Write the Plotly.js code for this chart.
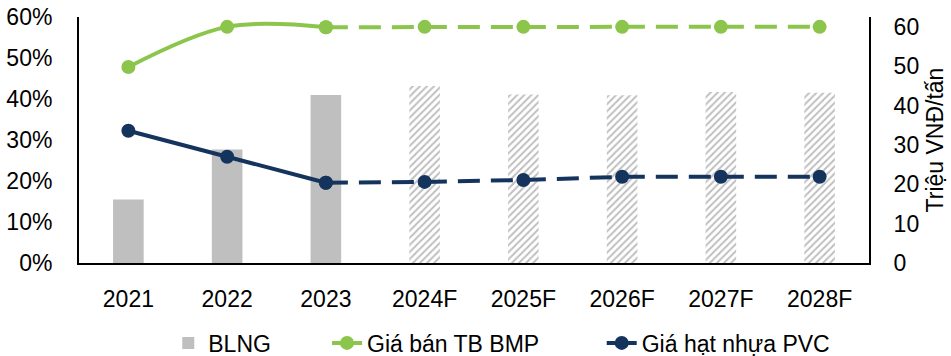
<!DOCTYPE html>
<html>
<head>
<meta charset="utf-8">
<script src="https://cdn.plot.ly/plotly-3.0.1.min.js"></script>
<style>html,body{margin:0;padding:0;background:#fff;}#chart{width:951px;height:356px;}</style>
</head>
<body>
<div id="chart"></div>
<script>
const categories = ["2021", "2022", "2023", "2024F", "2025F", "2026F", "2027F", "2028F"];
const blng = [0.155, 0.277, 0.410, 0.432, 0.411, 0.409, 0.417, 0.415];
const giaBanBMP = [49.8, 60.0, 59.9, 60.0, 60.0, 60.0, 60.0, 60.0];
const giaHatPVC = [33.6, 27.0, 20.4, 20.6, 21.1, 21.9, 21.9, 21.9];
const seriesNames = ["BLNG", "Giá bán TB BMP", "Giá hạt nhựa PVC"];
const nActual = 3;

const green = "#8cc54c";
const navy = "#15345d";
const grey = "#bfbfbf";
const font = {family: "Liberation Sans, Arial, sans-serif", size: 23, color: "#000"};
const legendFont = {family: "Liberation Sans, Arial, sans-serif", size: 23, color: "#000"};
const pad = n => "\u00a0".repeat(n);

const actCats = categories.slice(0, nActual);
const fcCats = categories.slice(nActual);
const lineCatsA = categories.slice(0, nActual);
const lineCatsF = categories.slice(nActual - 1);

const traces = [
  {type: "bar", x: actCats, y: blng.slice(0, nActual), name: seriesNames[0] + pad(8), marker: {color: grey, line: {width: 0}}, yaxis: "y"},
  {type: "bar", x: fcCats, y: blng.slice(nActual), name: seriesNames[0], showlegend: false,
   marker: {color: "#ffffff", line: {width: 0}, pattern: {shape: "/", fgcolor: grey, bgcolor: "#ffffff", size: 5, solidity: 0.4}}, yaxis: "y"},
  {type: "scatter", mode: "lines+markers", x: lineCatsA, y: giaBanBMP.slice(0, nActual), name: seriesNames[1] + pad(9), yaxis: "y2",
   line: {color: green, width: 4, shape: "spline", smoothing: 1}, marker: {color: green, size: 14}},
  {type: "scatter", mode: "lines+markers", x: lineCatsF, y: giaBanBMP.slice(nActual - 1), name: seriesNames[1], showlegend: false, yaxis: "y2",
   line: {color: green, width: 4, dash: "22px,11px"}, marker: {color: green, size: 14}},
  {type: "scatter", mode: "lines+markers", x: lineCatsA, y: giaHatPVC.slice(0, nActual), name: seriesNames[2], yaxis: "y2",
   line: {color: navy, width: 4, shape: "spline", smoothing: 0.6}, marker: {color: navy, size: 14}},
  {type: "scatter", mode: "lines+markers", x: lineCatsF, y: giaHatPVC.slice(nActual - 1), name: seriesNames[2], showlegend: false, yaxis: "y2",
   line: {color: navy, width: 4, dash: "22px,11px"}, marker: {color: navy, size: 14}}
];

const layout = {
  width: 951, height: 356,
  margin: {l: 79, r: 82, t: 17, b: 93, autoexpand: false},
  paper_bgcolor: "#fff", plot_bgcolor: "#fff",
  font: font,
  showlegend: true,
  barmode: "overlay",
  bargap: 0.69,
  xaxis: {type: "category", categoryorder: "array", categoryarray: categories,
    showline: true, linecolor: "#000", linewidth: 2, ticks: "", showgrid: false, zeroline: false,
    ticklabelstandoff: 14, tickfont: font, automargin: false},
  yaxis: {range: [0, 0.6], tickvals: [0, 0.1, 0.2, 0.3, 0.4, 0.5, 0.6], tickformat: ".0%",
    showline: true, linecolor: "#000", linewidth: 2, ticks: "", showgrid: false, zeroline: false,
    ticklabelstandoff: 20, tickfont: font, automargin: false},
  yaxis2: {overlaying: "y", side: "right", range: [0, 62.5], tickvals: [0, 10, 20, 30, 40, 50, 60],
    showline: true, linecolor: "#000", linewidth: 2, ticks: "", showgrid: false, zeroline: false,
    ticklabelstandoff: 18, tickfont: font, automargin: false,
    title: {text: "Triệu VNĐ/tấn", font: font, standoff: 9}},
  legend: {orientation: "h", x: 0.113, xanchor: "left", y: -0.325, yanchor: "middle", font: legendFont,
    traceorder: "normal", itemwidth: 30, bgcolor: "rgba(0,0,0,0)"}
};

Plotly.newPlot("chart", traces, layout, {displayModeBar: false, staticPlot: true});
</script>
</body>
</html>
